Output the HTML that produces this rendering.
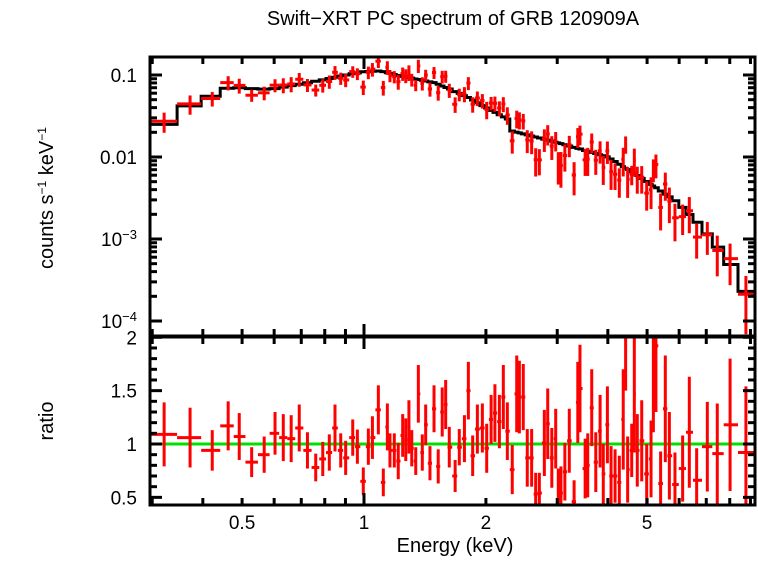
<!DOCTYPE html>
<html><head><meta charset="utf-8"><style>
body{margin:0;background:#fff}
svg text{font-family:"Liberation Sans",sans-serif;fill:#000}
</style></head><body>
<svg id="c" width="758" height="556" xmlns="http://www.w3.org/2000/svg">
<text x="453" y="25" font-size="20" text-anchor="middle">Swift−XRT PC spectrum of GRB 120909A</text>
<text transform="translate(53,198) rotate(-90)" font-size="20" text-anchor="middle">counts s<tspan baseline-shift="super" font-size="12">−1</tspan> keV<tspan baseline-shift="super" font-size="12">−1</tspan></text>
<text transform="translate(53,421) rotate(-90)" font-size="20" text-anchor="middle">ratio</text>
<text x="455" y="552" font-size="20" text-anchor="middle">Energy (keV)</text>
<g id="g"></g>
</svg>
<script>
const dataE=[0.321,0.372,0.422,0.462,0.492,0.528,0.567,0.603,0.632,0.661,0.692,0.725,0.760,0.791,0.821,0.848,0.876,0.901,0.938,0.963,0.996,1.025,1.049,1.085,1.116,1.142,1.159,1.188,1.215,1.246,1.268,1.291,1.312,1.342,1.362,1.393,1.420,1.455,1.489,1.525,1.560,1.591,1.624,1.679,1.719,1.770,1.810,1.855,1.905,1.960,2.009,2.060,2.105,2.159,2.208,2.259,2.323,2.383,2.419,2.473,2.530,2.594,2.654,2.710,2.788,2.842,2.909,2.974,3.018,3.064,3.133,3.213,3.302,3.372,3.414,3.516,3.568,3.650,3.735,3.828,3.898,3.990,4.074,4.168,4.270,4.366,4.426,4.477,4.582,4.650,4.729,4.850,4.989,5.114,5.182,5.258,5.400,5.546,5.675,5.859,6.120,6.357,6.628,7.042,7.452,8.015,8.77];
const ratioVals=[1.09,1.06,0.94,1.17,1.07,0.83,0.90,1.10,1.06,1.05,1.15,0.94,0.78,0.86,0.92,1.15,0.94,0.87,1.06,0.975,0.65,0.975,1.06,1.32,0.64,1.16,0.94,0.94,0.84,1.08,1.04,1.16,0.96,0.84,1.47,0.92,1.18,0.82,1.33,0.79,1.30,1.37,0.97,0.70,0.97,1.05,1.50,0.89,1.14,1.15,0.96,1.23,1.29,1.21,1.44,1.12,0.76,1.47,1.44,1.44,0.87,0.87,0.53,0.54,1.01,1.19,0.87,1.05,0.54,0.54,0.74,1.03,0.46,1.39,1.52,0.77,0.80,1.34,0.83,1.12,0.72,1.18,0.70,0.70,0.64,1.23,1.97,0.76,0.94,1.47,0.94,1.03,0.72,0.86,1.61,1.92,0.63,1.33,0.89,0.62,0.77,1.11,0.66,0.975,0.91,1.18,0.92];
const ratioErr=[0.30,0.28,0.19,0.23,0.22,0.14,0.17,0.20,0.22,0.22,0.22,0.17,0.13,0.16,0.17,0.22,0.16,0.16,0.17,0.16,0.13,0.17,0.20,0.23,0.13,0.22,0.16,0.16,0.17,0.20,0.20,0.25,0.17,0.13,0.27,0.17,0.19,0.16,0.22,0.16,0.23,0.23,0.19,0.15,0.17,0.22,0.27,0.19,0.23,0.23,0.23,0.23,0.27,0.25,0.30,0.27,0.23,0.36,0.34,0.31,0.27,0.27,0.20,0.19,0.31,0.33,0.28,0.28,0.23,0.25,0.27,0.30,0.20,0.38,0.41,0.28,0.30,0.36,0.28,0.34,0.28,0.36,0.28,0.25,0.25,0.47,0.47,0.31,0.25,0.55,0.34,0.38,0.28,0.36,0.50,0.62,0.30,0.50,0.41,0.30,0.31,0.52,0.30,0.42,0.47,0.62,0.62];
const modelE=[0.296,0.321,0.372,0.422,0.462,0.5,0.55,0.6,0.7,0.8,0.9,1.0,1.1,1.2,1.5,1.8,2.0,2.26,2.3,3,4,5,6,7,8,8.5,9.2];
const modelV=[0.025,0.025,0.042,0.055,0.069,0.070,0.067,0.068,0.078,0.088,0.10,0.11,0.112,0.10,0.08,0.054,0.04,0.029,0.021,0.015,0.01,0.005,0.0027,0.0012,0.0005,0.00023,0.00023];
const xTicks=[0.5,1,2,5];
const yTickLabels=[["0.1",0.1],["0.01",0.01],["10","−3",0.001],["10","−4",0.0001]];
const rTicks=[0.5,1,1.5,2];

const L=150,R=755,T1=57,B1=336,T2=337,B2=505;
const X=e=>364+405*Math.log10(e);
const Y1=v=>75-82*Math.log10(v/0.1);
const Y2=r=>444-106.7*(r-1);
function model(e){
  for(let i=0;i<modelE.length-1;i++){
    if(e<=modelE[i+1]){const t=(Math.log(e)-Math.log(modelE[i]))/(Math.log(modelE[i+1])-Math.log(modelE[i]));
      return Math.exp(Math.log(modelV[i])+t*(Math.log(modelV[i+1])-Math.log(modelV[i])));}
  }
  return modelV[modelV.length-1];
}
const g=document.getElementById('g');
const NS="http://www.w3.org/2000/svg";
function el(t,a,p){const e=document.createElementNS(NS,t);for(const k in a)e.setAttribute(k,a[k]);(p||g).appendChild(e);return e;}
const defs=el('defs',{});
const c1=el('clipPath',{id:'c1'},defs);el('rect',{x:L,y:T1,width:R-L,height:B1-T1},c1);
const c2=el('clipPath',{id:'c2'},defs);el('rect',{x:L,y:T2,width:R-L,height:B2-T2},c2);
const edges=[];
edges.push(Math.pow(10,(L-364)/405));
for(let i=0;i<dataE.length-1;i++)edges.push(Math.sqrt(dataE[i]*dataE[i+1]));
edges.push(Math.pow(10,(R+2-364)/405));
const gm=el('g',{'clip-path':'url(#c1)'});


let d='';
dataE.forEach((e,i)=>{const y=Y1(model(e));d+=(i?'L':'M')+X(edges[i])+','+y+'L'+X(edges[i+1])+','+y;});
el('path',{d:d,fill:'none',stroke:'#000','stroke-width':3},gm);
const gd=el('g',{'clip-path':'url(#c1)'});


const gr=el('g',{'clip-path':'url(#c2)'});


const gl=el('line',{x1:L,x2:R,y1:Y2(1),y2:Y2(1),stroke:'#00e000','stroke-width':3},gr);


dataE.forEach((e,i)=>{
  const m=model(e),v=m*ratioVals[i],er=m*ratioErr[i];
  const x=X(e),x0=X(edges[i]),x1=X(edges[i+1]);
  const p=el('g',{},gd);
  
  
  el('line',{x1:x0,x2:x1,y1:Y1(v),y2:Y1(v),stroke:'#f00','stroke-width':3},p);
  el('line',{x1:x,x2:x,y1:Y1(v+er),y2:Y1(Math.max(v-er,1e-6)),stroke:'#f00','stroke-width':3},p);
  const q=el('g',{},gr);
  
  
  const r=ratioVals[i],re=ratioErr[i];
  el('line',{x1:x0,x2:x1,y1:Y2(r),y2:Y2(r),stroke:'#f00','stroke-width':3},q);
  el('line',{x1:x,x2:x,y1:Y2(r+re),y2:Y2(r-re),stroke:'#f00','stroke-width':3},q);
});
const f1=el('rect',{x:L,y:T1,width:R-L,height:B1-T1,fill:'none',stroke:'#000','stroke-width':3});


const f2=el('rect',{x:L,y:T2,width:R-L,height:B2-T2,fill:'none',stroke:'#000','stroke-width':3});


const gt=el('g',{stroke:'#000','stroke-width':3});


function tick(x1,y1,x2,y2){el('line',{x1,y1,x2,y2},gt);}
for(let dec of [0.1,1]){for(let k=1;k<10;k++){const e=dec*k;const x=X(e);if(x<L||x>R)continue;
  const len=(k===1)?12:7;
  [[T1,1],[B1,-1],[T2,1],[B2,-1]].forEach(([y,s])=>tick(x,y,x,y+s*len));}}
for(let dec of [0.0001,0.001,0.01,0.1]){for(let k=1;k<10;k++){const v=dec*k;const y=Y1(v);if(y<T1||y>B1)continue;
  const len=(k===1)?12:7;tick(L,y,L+len,y);tick(R,y,R-len,y);}}
for(let r=0.5;r<=2.001;r+=0.1){const y=Y2(r);if(y<T2-1||y>B2)continue;const maj=Math.abs(r*2-Math.round(r*2))<1e-6;
  const len=maj?12:7;tick(L,y,L+len,y);tick(R,y,R-len,y);}
xTicks.forEach(e=>{const t=el('text',{x:X(e),y:529,'font-size':19,'text-anchor':'middle'});t.textContent=String(e);
  
  });
yTickLabels.forEach(a=>{const v=a[a.length-1];const t=el('text',{x:137,y:Y1(v)+7,'font-size':19,'text-anchor':'end'});
  
  
  if(a.length===2){t.textContent=a[0];}else{t.textContent=a[0];const s=el('tspan',{'baseline-shift':'super','font-size':13},t);s.textContent=a[1];}});
rTicks.forEach(r=>{const t=el('text',{x:137,y:Y2(r)+7,'font-size':19,'text-anchor':'end'});t.textContent=String(r);
  
  });
</script>
</body></html>
